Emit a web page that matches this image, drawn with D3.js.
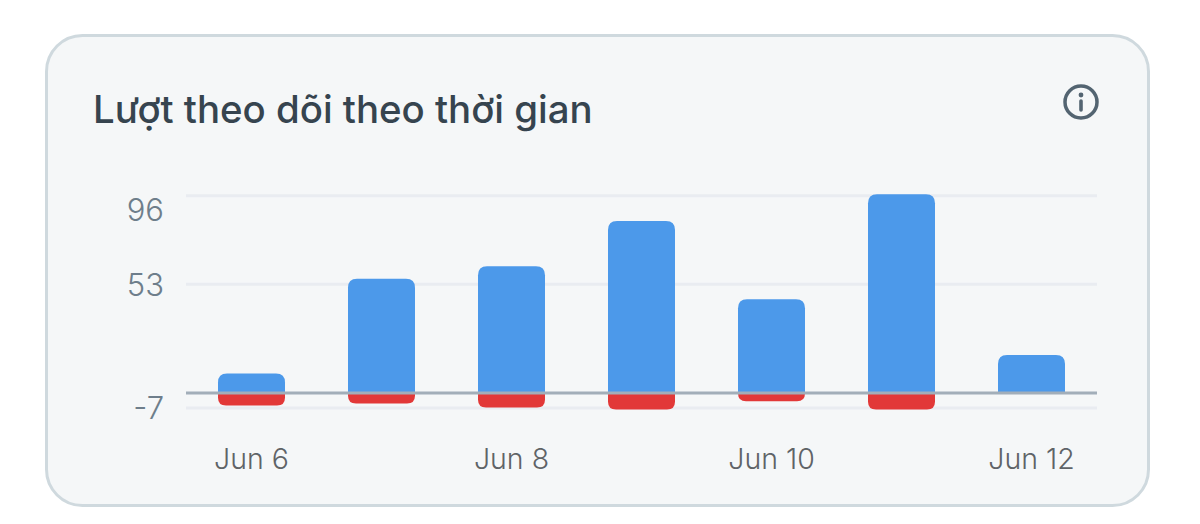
<!DOCTYPE html>
<html>
<head>
<meta charset="utf-8">
<script src="https://cdn.jsdelivr.net/npm/d3@7"></script>
<style>
html, body { margin: 0; padding: 0; background: #fff; }
svg { display: block; }
text { font-family: Inter, "Noto Sans", sans-serif; }
</style>
</head>
<body>
<svg id="chart"></svg>
<script>
var title = "Lượt theo dõi theo thời gian";
var days = ["Jun 6", "Jun 7", "Jun 8", "Jun 9", "Jun 10", "Jun 11", "Jun 12"];
var tickDays = ["Jun 6", "Jun 8", "Jun 10", "Jun 12"];
var gained = [9.5, 55.5, 61.5, 83.5, 45.5, 96.5, 18.5];
var lost = [-6, -5, -7, -8, -4, -8, 0];
var yTicks = [96, 53, -7];

var width = 1200, height = 524;
var svg = d3.select("#chart").attr("width", width).attr("height", height);

// card
svg.append("rect").attr("x", 46.5).attr("y", 35.5).attr("width", 1102).attr("height", 470).attr("rx", 36)
	.attr("fill", "#f5f7f8").attr("stroke", "#cfd9de").attr("stroke-width", 3);

svg.append("text").attr("x", 93).attr("y", 123).attr("font-size", 38.4).attr("font-weight", 450)
	.attr("fill", "#36444f").text(title);

// info icon
var info = svg.append("g").attr("transform", "translate(1081,102)");
info.append("circle").attr("r", 16).attr("fill", "none").attr("stroke", "#536471").attr("stroke-width", 3.5);
info.append("circle").attr("cy", -7).attr("r", 2.4).attr("fill", "#536471");
info.append("line").attr("y1", -1).attr("y2", 8).attr("stroke", "#536471").attr("stroke-width", 3.6).attr("stroke-linecap", "round");

var x = d3.scaleBand().domain(days).range([186.5, 1096.5]).paddingInner(63 / 130).paddingOuter(63 / 260);
var y = d3.scaleLinear().domain([-7, 96]).range([407.5, 195.2]);

// gridlines and y labels
var yAxis = svg.append("g").attr("transform", "translate(186,0)")
	.call(d3.axisLeft(y).tickValues(yTicks).tickSize(0).tickPadding(22).tickFormat(String));
yAxis.select(".domain").remove();
yAxis.selectAll("line").attr("x2", 911).attr("stroke", "#e9ecf1").attr("stroke-width", 3);
yAxis.selectAll("text").attr("x", -22).attr("font-size", 31).attr("font-weight", 300).attr("fill", "#6e7e8b").attr("font-family", null)
	.attr("dy", function(d) { return d == 96 ? "0.81em" : "0.36em"; });

function barPath(v, r) {
	var x0 = x(days[v.i]), w = x.bandwidth(), y0 = y(0), y1 = y(v.value);
	var dir = y1 < y0 ? 1 : -1;
	var rad = Math.min(r, Math.abs(y1 - y0));
	return "M" + x0 + "," + y0 + "V" + (y1 + dir * rad)
		+ "Q" + x0 + "," + y1 + " " + (x0 + rad) + "," + y1
		+ "H" + (x0 + w - rad)
		+ "Q" + (x0 + w) + "," + y1 + " " + (x0 + w) + "," + (y1 + dir * rad)
		+ "V" + y0 + "Z";
}

svg.selectAll(".gained").data(gained.map(function(d, i) { return { value: d, i: i }; }))
	.enter().append("path").attr("class", "gained").attr("fill", "#4c99ea")
	.attr("d", function(d) { return barPath(d, 9); });

svg.selectAll(".lost").data(lost.map(function(d, i) { return { value: d, i: i }; }).filter(function(d) { return d.value < 0; }))
	.enter().append("path").attr("class", "lost").attr("fill", "#e23838")
	.attr("d", function(d) { return barPath(d, 8); });

// zero line
svg.append("line").attr("x1", 186).attr("x2", 1097).attr("y1", y(0)).attr("y2", y(0))
	.attr("stroke", "#a2aeb9").attr("stroke-width", 3);

// x labels
var xAxis = svg.append("g").attr("transform", "translate(0,469)")
	.call(d3.axisBottom(x).tickValues(tickDays).tickSize(0).tickPadding(0));
xAxis.select(".domain").remove();
xAxis.selectAll("text").attr("font-size", 28.5).attr("font-weight", 300).attr("fill", "#5f6367").attr("font-family", null).attr("dy", 0);
</script>
</body>
</html>
